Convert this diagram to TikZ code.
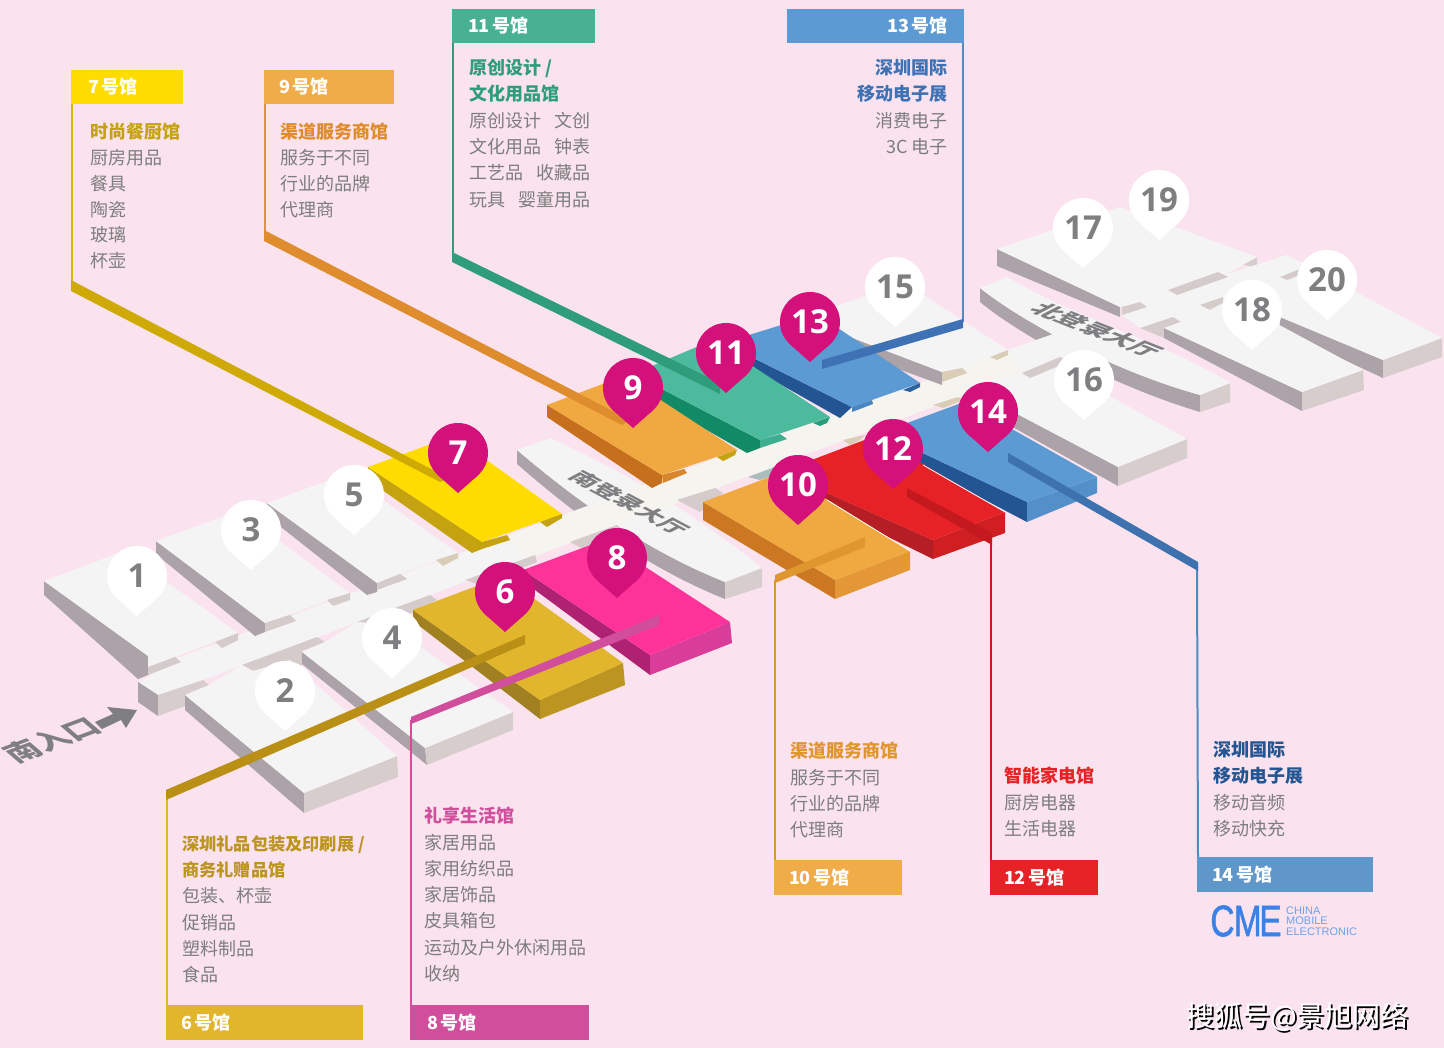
\documentclass[tikz,border=0pt]{standalone}
\usepackage{fontspec}
\setmainfont{Noto Sans CJK SC}
\newfontfamily\numfont{Open Sans}
\newfontfamily\logofont{Liberation Sans}
\definecolor{bg}{HTML}{FAE3EE}
\definecolor{wtop}{HTML}{F5F4F4}
\definecolor{wside}{HTML}{ABA3A7}
\definecolor{wend}{HTML}{D8CDCD}
\definecolor{wnotch}{HTML}{D6CBCB}
\definecolor{tan}{HTML}{D9CDB8}
\definecolor{ivory}{HTML}{F6F4EE}
\definecolor{pinc}{HTML}{D4107A}
\definecolor{txt}{HTML}{7D7D7D}
\definecolor{numg}{HTML}{7F7F82}
% hall colours
\definecolor{y7}{HTML}{FFDC00}\definecolor{y7s}{HTML}{C4A210}
\definecolor{o9}{HTML}{F0A840}\definecolor{o9s}{HTML}{C6701E}
\definecolor{g11}{HTML}{4CBA9C}\definecolor{g11s}{HTML}{128A66}
\definecolor{b13}{HTML}{5B9AD3}\definecolor{b13s}{HTML}{245593}
\definecolor{r12}{HTML}{E72226}\definecolor{r12s}{HTML}{B51E25}
\definecolor{m8}{HTML}{FE3399}\definecolor{m8s}{HTML}{AE2271}\definecolor{m8e}{HTML}{D93D99}
\definecolor{a6}{HTML}{E2B62C}\definecolor{a6s}{HTML}{A08020}\definecolor{a6e}{HTML}{BC9420}
% leaders and heads
\definecolor{l7}{HTML}{CFAA06}\definecolor{l9}{HTML}{DE8C2E}\definecolor{l11}{HTML}{2F9D7C}
\definecolor{l13}{HTML}{3F72B5}\definecolor{l14}{HTML}{3D72AF}\definecolor{l12}{HTML}{C4191F}
\definecolor{l10}{HTML}{E0962F}\definecolor{l6}{HTML}{B98F15}\definecolor{l8}{HTML}{D04E9C}
\tikzset{
  tagbox/.style={anchor=north west,inner ysep=0pt,outer sep=0pt,minimum height=#1,text=white,font=\fontsize{18}{20}\selectfont\bfseries},
  block/.style={anchor=north west,inner sep=0pt,align=left,text=txt,font=\fontsize{18}{26.3}\selectfont},
  blockr/.style={anchor=north east,inner sep=0pt,align=right,text=txt,font=\fontsize{18}{26.3}\selectfont},
  leadline/.style={line width=2pt},
  pinnum/.style={inner sep=0pt,font=\fontsize{33}{36}\selectfont\numfont\bfseries}
}
\newcommand{\pinmark}[6]{%
  \fill[#4] (#2,#3) circle[radius=30pt];
  \fill[#4] (#2-19.8,#3+22.5) -- (#2,#3+40) -- (#2+19.8,#3+22.5) -- cycle;
  \node[pinnum,text=#5] (#1) at (#2,#3) {#6};}
\newcommand{\isotext}[8]{%
  \begin{scope}[shift={(#1,#2)},cm={#3,#4,#5,#6,(0,0)}]
    \node[transform shape,inner sep=0pt,text=numg,font=\fontsize{#7}{#7}\selectfont\bfseries] {#8};
  \end{scope}}
\begin{document}
\begin{tikzpicture}[x=1pt,y=-1pt]
\useasboundingbox (0,0) rectangle (1444,1048);
\fill[bg] (0,0) rectangle (1444,1048);

% ---- north atrium
\fill[wside] (980,288) .. controls (1020,320) and (1110,370) .. (1200,395) -- (1200,412) .. controls (1110,385) and (1020,335) .. (980,302) -- cycle;
\fill[wend] (1200,395) -- (1230,383) -- (1230,402) -- (1200,412) -- cycle;
\fill[wtop] (980,288) -- (1007,277) .. controls (1080,320) and (1170,345) .. (1230,383) -- (1200,395) .. controls (1110,370) and (1020,320) .. (980,288) -- cycle;

% ---- halls 17/19
\fill[wside] (997,249) -- (1120,307) -- (1120,317) -- (997,266) -- cycle;
\fill[wend] (1257,257) -- (1240,264) -- (1257,268) -- cycle;
\fill[wtop] (997,249) -- (1120,207) -- (1257,257) -- (1180,300) -- (1120,307) -- cycle;
% north cross band
\fill[wtop] (1122,315) -- (1145,300) -- (1287,255) -- (1340,285) -- (1230,325) -- (1170,325) -- (1140,328) -- cycle;
\fill[wnotch] (1122,307) -- (1140,302) -- (1147,307) -- (1122,315) -- cycle;
\fill[wnotch] (1168,290) -- (1218,272) -- (1228,277) -- (1177,295) -- cycle;
\fill[wnotch] (1140,328) -- (1173,317) -- (1181,322) -- (1164,328) -- (1164,338) -- cycle;
\fill[wnotch] (1200,305) -- (1223,297) -- (1223,303) -- (1210,310) -- cycle;
% hall 20
\fill[wside] (1280,317) -- (1383,360) -- (1383,378) -- (1280,330) -- cycle;
\fill[wend] (1383,360) -- (1442,338) -- (1442,357) -- (1383,378) -- cycle;
\fill[wtop] (1225,295) -- (1287,255) -- (1442,338) -- (1383,360) -- (1280,317) -- cycle;
\fill[wnotch] (1280,277) -- (1300,269) -- (1300,275) -- (1287,280) -- cycle;
% hall 18
\fill[wside] (1164,328) -- (1302,392) -- (1302,411) -- (1164,338) -- cycle;
\fill[wend] (1302,392) -- (1363,370) -- (1364,390) -- (1302,411) -- cycle;
\fill[wtop] (1164,328) -- (1181,322) -- (1210,310) -- (1223,303) -- (1270,320) -- (1363,370) -- (1302,392) -- cycle;

% ---- south atrium
\fill[wside] (517,450) .. controls (570,495) and (640,548) .. (725,582) -- (725,599) .. controls (640,565) and (570,510) .. (517,464) -- cycle;
\fill[wend] (725,582) -- (762,568) -- (762,587) -- (725,599) -- cycle;
\fill[wtop] (517,450) -- (550,438) .. controls (620,470) and (690,510) .. (762,568) -- (725,582) .. controls (640,548) and (570,495) .. (517,450) -- cycle;

% ---- hall 16 sides
\fill[wside] (1000,405) -- (1118,467) -- (1118,486) -- (1000,420) -- cycle;
\fill[wend] (1118,467) -- (1187,439) -- (1187,458) -- (1118,486) -- cycle;

% ---- spine
\fill[wtop] (138,682) -- (148,677) -- (177,658) -- (1008,350) -- (1070,328) -- (1095,350) -- (1060,358) -- (1023,373) -- (203,680) -- (158,695) -- cycle;
\fill[ivory] (510,537) -- (1008,350) -- (1023,373) -- (525,560) -- cycle;
% hall 16 top
\fill[wtop] (965,385) -- (1023,373) -- (1060,357) -- (1090,385) -- (1187,439) -- (1118,467) -- (1000,405) -- cycle;

% ---- lower notches
\fill[wnotch] (1022,373) -- (1060,357) -- (1068,362) -- (1030,378) -- cycle;
\fill[wnotch] (357,622) -- (430,595) -- (437,600) -- (413,612) -- (390,625) -- cycle;
\fill[wnotch] (242,665) -- (317,637) -- (325,642) -- (302,651) -- (302,672) -- (253,671) -- cycle;
\fill[wnotch] (465,580) -- (535,555) -- (537,562) -- (480,585) -- cycle;
\fill[wnotch] (570,542) -- (617,525) -- (622,530) -- (585,550) -- cycle;
\fill[wnotch] (677,500) -- (715,488) -- (723,493) -- (700,512) -- cycle;
\fill[wnotch!80!teal] (748,477) -- (775,467) -- (775,475) -- (760,480) -- cycle;
\fill[tan] (843,440) -- (865,435) -- (860,440) -- (850,445) -- cycle;
\fill[tan] (933,405) -- (958,397) -- (963,400) -- (943,408) -- cycle;

% entrance stub
\fill[wside] (138,682) -- (158,695) -- (158,716) -- (138,702) -- cycle;
\fill[wend] (158,695) -- (203,680) -- (209,685) -- (185,695) -- (185,706) -- (158,716) -- cycle;

% ---- hall 15
\fill[wside] (800,318) -- (942,372) -- (942,385) -- (800,333) -- cycle;
\fill[wtop] (800,318) -- (905,283) -- (1008,350) -- (963,368) -- (942,372) -- cycle;
\fill[tan] (942,372) -- (962,368) -- (967,373) -- (942,382) -- cycle;
\fill[tan] (990,357) -- (1008,350) -- (1008,355) -- (997,360) -- cycle;

% ---- hall 13
\fill[b13s] (723,343) -- (852,407) -- (840,418) -- (723,352) -- cycle;
\fill[b13] (723,343) -- (817,314) -- (920,383) -- (852,407) -- cycle;
\fill[b13!70!b13s] (852,407) -- (872,400) -- (873,404) -- (852,412) -- cycle;
\fill[b13s!80!b13] (903,390) -- (920,383) -- (920,387) -- (910,392) -- cycle;

% ---- hall 11
\fill[g11s] (633,374) -- (760,440) -- (760,448) -- (747,453) -- (633,388) -- cycle;
\fill[g11] (633,374) -- (713,340) -- (830,417) -- (760,440) -- cycle;
\fill[g11!75!g11s] (760,440) -- (780,434) -- (787,439) -- (760,448) -- cycle;
\fill[g11!40!g11s] (813,423) -- (830,417) -- (827,423) -- (820,426) -- cycle;

% ---- hall 9
\fill[o9s] (547,405) -- (662,475) -- (662,483) -- (652,488) -- (547,417) -- cycle;
\fill[o9] (547,405) -- (624,376) -- (737,450) -- (662,475) -- cycle;
\fill[o9s!60!o9] (662,475) -- (684,469) -- (687,473) -- (663,483) -- cycle;
\fill[y7s] (717,457) -- (737,450) -- (735,455) -- (723,461) -- cycle;

% ---- hall 5
\fill[wside] (267,503) -- (377,583) -- (377,592) -- (367,595) -- (267,516) -- cycle;
\fill[wtop] (267,503) -- (346,474) -- (458,553) -- (377,583) -- cycle;
\fill[wnotch] (377,583) -- (400,574) -- (407,579) -- (377,590) -- cycle;
\fill[tan] (436,560) -- (458,553) -- (458,558) -- (443,566) -- cycle;

% ---- hall 3
\fill[wside] (156,541) -- (265,623) -- (265,632) -- (255,636) -- (156,554) -- cycle;
\fill[wtop] (156,541) -- (238,511) -- (350,593) -- (265,623) -- cycle;
\fill[wnotch] (265,623) -- (290,615) -- (296,621) -- (265,632) -- cycle;
\fill[wnotch] (327,600) -- (350,593) -- (350,600) -- (333,606) -- cycle;

% ---- hall 1
\fill[wside] (44,581) -- (148,656) -- (148,675) -- (138,679) -- (44,595) -- cycle;
\fill[wtop] (44,581) -- (124,551) -- (238,633) -- (148,667) -- (148,656) -- cycle;
\fill[wnotch] (148,667) -- (175,657) -- (181,662) -- (148,675) -- cycle;
\fill[wnotch] (215,642) -- (238,633) -- (238,640) -- (222,648) -- cycle;

% ---- hall 2
\fill[wside] (185,695) -- (304,793) -- (304,813) -- (185,710) -- cycle;
\fill[wend] (304,793) -- (397,756) -- (398,777) -- (304,813) -- cycle;
\fill[wtop] (185,695) -- (209,685) -- (242,665) -- (253,671) -- (290,660) -- (302,672) -- (397,756) -- (304,793) -- cycle;

% ---- hall 4
\fill[wside] (302,652) -- (425,748) -- (427,765) -- (302,664) -- cycle;
\fill[wend] (425,748) -- (513,712) -- (513,730) -- (427,765) -- cycle;
\fill[wtop] (302,652) -- (325,642) -- (357,622) -- (390,625) -- (513,712) -- (425,748) -- cycle;

% ---- hall 7
\fill[y7s] (368,467) -- (482,542) -- (482,549) -- (472,553) -- (368,480) -- cycle;
\fill[y7] (368,467) -- (453,436) -- (562,514) -- (482,542) -- cycle;
\fill[y7s] (482,542) -- (507,535) -- (510,540) -- (482,549) -- cycle;
\fill[y7s] (540,522) -- (562,514) -- (562,518) -- (547,527) -- cycle;

% ---- hall 14
\fill[b13s] (880,433) -- (1027,502) -- (1027,522) -- (880,445) -- cycle;
\fill[b13!85!b13s] (1027,502) -- (1097,477) -- (1097,493) -- (1027,522) -- cycle;
\fill[b13] (880,433) -- (964,402) -- (1097,477) -- (1027,502) -- cycle;

% ---- hall 12
\fill[r12s] (780,472) -- (933,540) -- (933,559) -- (780,484) -- cycle;
\fill[r12!90!black] (933,540) -- (1005,512) -- (1005,533) -- (933,559) -- cycle;
\fill[r12] (780,472) -- (875,436) -- (1005,512) -- (933,540) -- cycle;
\draw[white,line width=.8pt] (923,465) -- (1005,512);

% ---- hall 10
\fill[o9s!85!o9] (703,502) -- (835,580) -- (835,599) -- (703,520) -- cycle;
\fill[o9!70!o9s] (835,580) -- (910,551) -- (910,570) -- (835,599) -- cycle;
\fill[o9] (703,502) -- (783,472) -- (910,551) -- (835,580) -- cycle;
\draw[white,line width=.8pt] (827,500) -- (910,551);

% ---- hall 8
\fill[m8s] (523,570) -- (650,655) -- (650,675) -- (535,590) -- cycle;
\fill[m8e] (650,655) -- (730,622) -- (732,643) -- (650,675) -- cycle;
\fill[m8] (523,570) -- (604,540) -- (730,622) -- (650,655) -- cycle;

% ---- hall 6
\fill[a6s] (413,610) -- (540,700) -- (540,719) -- (413,621) -- cycle;
\fill[a6e] (540,700) -- (623,663) -- (625,685) -- (540,719) -- cycle;
\fill[a6] (413,610) -- (503,576) -- (623,663) -- (540,700) -- cycle;

% ---- tags
\node[tagbox=34pt,fill=y7,inner xsep=17pt,text width=78pt,align=left] (t7) at (71,70) {7\,号馆};
\node[tagbox=34pt,fill=o9!95!white,inner xsep=15pt,text width=100pt,align=left] (t9) at (264,70) {9\,号馆};
\node[tagbox=34pt,fill=g11!95!black,inner xsep=16pt,text width=111pt,align=left] (t11) at (452,9) {11\,号馆};
\node[tagbox=34pt,fill=b13,inner xsep=16pt,text width=145pt,align=right] (t13) at (787,9) {13\,号馆};
\node[tagbox=35pt,fill=o9!95!white,inner xsep=15pt,text width=98pt,align=left] (t10) at (774,860) {10\,号馆};
\node[tagbox=35pt,fill=r12,inner xsep=14pt,text width=80pt,align=left] (t12) at (990,860) {12\,号馆};
\node[tagbox=35pt,fill=b13!90!gray,inner xsep=15pt,text width=146pt,align=left] (t14) at (1197,857) {14\,号馆};
\node[tagbox=35pt,fill=a6,inner xsep=15pt,text width=167pt,align=left] (t6) at (166,1005) {6\,号馆};
\node[tagbox=35pt,fill=l8,inner xsep=17pt,text width=145pt,align=left] (t8) at (410,1005) {8\,号馆};

% ---- leaders
\coordinate (e7) at (72,284); \coordinate (e9) at (265,233); \coordinate (e11) at (453,254);
\coordinate (e13) at (963,322); \coordinate (e10) at (775,580); \coordinate (e12) at (991,540);
\coordinate (e14) at (1197,566); \coordinate (e6) at (167,795); \coordinate (e8) at (411,720);
\draw[leadline,y7!85!black] ([xshift=1pt]t7.south west) -- (e7);
\draw[leadline,o9!90!black] ([xshift=1pt]t9.south west) -- (e9);
\draw[leadline,l11] ([xshift=1pt]t11.south west) -- (e11);
\draw[leadline,b13!90!black] ([xshift=-1pt]t13.south east) -- (e13);
\draw[leadline,o9!90!black] ([xshift=1pt]t10.north west) -- (e10);
\draw[leadline,r12!85!black] ([xshift=1pt]t12.north west) -- (e12);
\draw[leadline,b13!90!black] ([xshift=1pt]t14.north west) -- (e14);
\draw[leadline,a6] ([xshift=1pt]t6.north west) -- (e6);
\draw[leadline,l8] ([xshift=1pt]t8.north west) -- (e8);
\fill[l7] (71,280) -- (450,479) -- (440,482) -- (71,291) -- cycle;
\fill[l9] (264,230) -- (630,420) -- (622,425) -- (264,241) -- cycle;
\fill[l11] (452,252) -- (720,383) -- (720,394) -- (452,262) -- cycle;
\fill[l13] (963,319) -- (963,328) -- (822,369) -- (822,360) -- cycle;
\fill[l14] (1198,562) -- (1198,571) -- (1008,462) -- (1008,453) -- cycle;
\fill[l12] (907,488) -- (992,533) -- (992,545) -- (907,497) -- cycle;
\fill[l10] (775,575) -- (865,537) -- (865,547) -- (775,583) -- cycle;
\fill[l6] (166,790) -- (525,635) -- (525,644) -- (166,800) -- cycle;
\fill[l8] (411,717) -- (659,615) -- (659,625) -- (411,724) -- cycle;

% ---- pins
\pinmark{p1}{137}{576}{white}{numg}{1}
\pinmark{p2}{285}{691}{white}{numg}{2}
\pinmark{p3}{251}{530}{white}{numg}{3}
\pinmark{p4}{392}{638}{white}{numg}{4}
\pinmark{p5}{354}{495}{white}{numg}{5}
\pinmark{p15}{895}{287}{white}{numg}{15}
\pinmark{p16}{1084}{380}{white}{numg}{16}
\pinmark{p17}{1083}{228}{white}{numg}{17}
\pinmark{p18}{1252}{310}{white}{numg}{18}
\pinmark{p19}{1159}{200}{white}{numg}{19}
\pinmark{p20}{1327}{280}{white}{numg}{20}
\pinmark{p6}{505}{592}{pinc}{white}{6}
\pinmark{p7}{458}{453}{pinc}{white}{7}
\pinmark{p8}{617}{558}{pinc}{white}{8}
\pinmark{p9}{633}{388}{pinc}{white}{9}
\pinmark{p10}{798}{485}{pinc}{white}{10}
\pinmark{p11}{726}{353}{pinc}{white}{11}
\pinmark{p12}{893}{449}{pinc}{white}{12}
\pinmark{p13}{810}{322}{pinc}{white}{13}
\pinmark{p14}{988}{412}{pinc}{white}{14}

% ---- atrium and entrance texts
\isotext{630}{503}{.88}{-.47}{.75}{.4}{25}{南登录大厅}
\isotext{1097}{330}{.93}{-.37}{.8}{.42}{26}{北登录大厅}
\isotext{52}{740}{.94}{.35}{-.7}{.6}{31}{南入口}
% arrow
\fill[numg] (95,722) -- (113,714) -- (107,707) -- (137,710) -- (126,728) -- (121,720) -- (102,729) -- cycle;

% ---- text blocks
\node[block,font=\fontsize{18}{25.8}\selectfont] (b7) at (90,123) {\textcolor{y7s}{\bfseries 时尚餐厨馆}\\厨房用品\\餐具\\陶瓷\\玻璃\\杯壶};
\node[block,font=\fontsize{18}{26}\selectfont] (b9) at (280,123) {\textcolor{l9}{\bfseries 渠道服务商馆}\\服务于不同\\行业的品牌\\代理商};
\node[block] (b11) at (469,59) {\textcolor{l11}{\bfseries 原创设计 /}\\\textcolor{l11}{\bfseries 文化用品馆}\\原创设计\hspace{13pt}文创\\文化用品\hspace{13pt}钟表\\工艺品\hspace{13pt}收藏品\\玩具\hspace{13pt}婴童用品};
\node[blockr] (b13) at (948,59) {\textcolor{l13}{\bfseries 深圳国际}\\\textcolor{l13}{\bfseries 移动电子展}\\消费电子\\3C 电子};
\node[block] (b10) at (790,742) {\textcolor{l10}{\bfseries 渠道服务商馆}\\服务于不同\\行业的品牌\\代理商};
\node[block] (b12) at (1004,767) {\textcolor{r12}{\bfseries 智能家电馆}\\厨房电器\\生活电器};
\node[block] (b14) at (1213,741) {\textcolor{b13s}{\bfseries 深圳国际}\\\textcolor{b13s}{\bfseries 移动电子展}\\移动音频\\移动快充};
\node[block] (b6) at (182,835) {\textcolor{a6e}{\fontsize{17.2}{26.3}\selectfont\bfseries 深圳礼品包装及印刷展 /}\\\textcolor{a6e}{\fontsize{17.2}{26.3}\selectfont\bfseries 商务礼赠品馆}\\包装、杯壶\\促销品\\塑料制品\\食品};
\node[block] (b8) at (424,807) {\textcolor{l8}{\bfseries 礼享生活馆}\\家居用品\\家用纺织品\\家居饰品\\皮具箱包\\运动及户外休闲用品\\收纳};

% ---- logo
\definecolor{cme}{HTML}{3C82E6}
\begin{scope}[shift={(1246,921)},xscale=.76]
\node[transform shape,inner sep=0pt,text=cme,font=\fontsize{44}{44}\selectfont\logofont\addfontfeature{FakeBold=1.5}] (cme) {C\kern-1pt M\kern-3pt E};
\end{scope}
\node[anchor=west,inner sep=0pt,align=left,text=cme!75!white,font=\fontsize{11}{10.5}\selectfont\logofont] (cmet) at (1286,921) {CHINA\\MOBILE\\ELECTRONIC};

% ---- watermark
\node[inner sep=0pt,text=black,font=\fontsize{28}{30}\selectfont] (wms) at (1299.5,1018.5) {搜狐号@景旭网络};
\node[inner sep=0pt,text=white,font=\fontsize{28}{30}\selectfont] (wm) at (1297.5,1017) {搜狐号@景旭网络};
\end{tikzpicture}
\end{document}
